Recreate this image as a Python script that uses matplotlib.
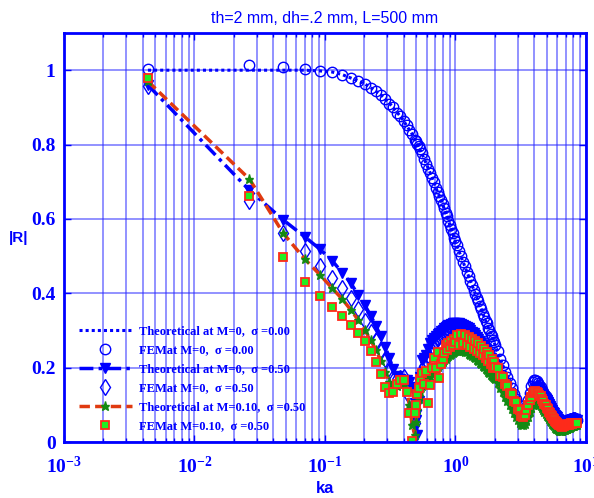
import math
import matplotlib
matplotlib.use("Agg")
import matplotlib.pyplot as plt
from matplotlib.ticker import LogLocator, FuncFormatter, NullFormatter, FixedLocator

plt.rcParams['mathtext.fontset'] = 'custom'
plt.rcParams['mathtext.rm'] = 'Liberation Serif:bold'
plt.rcParams['mathtext.it'] = 'Liberation Serif:bold'
plt.rcParams['mathtext.bf'] = 'Liberation Serif:bold'

BLUE = '#0000ff'

# ka grid: rows of 12 below ka=1, then 25 points up to 1.98, then steps of 0.1
ka = [
    0.0044, 0.0264, 0.048, 0.070, 0.092, 0.114, 0.136, 0.158, 0.180, 0.202, 0.224, 0.246,
    0.268, 0.290, 0.312, 0.334, 0.356, 0.378, 0.400, 0.422, 0.444, 0.466, 0.488, 0.499,
    0.510, 0.521, 0.532, 0.554, 0.576, 0.598, 0.620, 0.642, 0.664, 0.686, 0.708, 0.730,
    0.752, 0.774, 0.796, 0.818, 0.840, 0.862, 0.884, 0.906, 0.928, 0.950, 0.972, 0.994,
    1.02, 1.06, 1.10, 1.14, 1.18, 1.22, 1.26, 1.30, 1.34, 1.38, 1.42, 1.46, 1.50,
    1.54, 1.58, 1.62, 1.66, 1.70, 1.74, 1.78, 1.82, 1.86, 1.90, 1.94, 1.98,
    2.0,
    2.1, 2.2, 2.3, 2.4, 2.5, 2.6, 2.7, 2.8, 2.9, 3.0,
    3.1, 3.2, 3.3, 3.4, 3.5, 3.6, 3.7, 3.8, 3.9, 4.0,
    4.1, 4.2, 4.3, 4.4, 4.5, 4.6, 4.7, 4.8, 4.9, 5.0,
    5.1, 5.2, 5.3, 5.4, 5.5, 5.6, 5.7, 5.8, 5.9, 6.0,
    6.1, 6.2, 6.3, 6.4, 6.5, 6.6, 6.7, 6.8, 6.9, 7.0,
    7.1, 7.2, 7.3, 7.4, 7.5, 7.6, 7.7, 7.8, 7.9, 8.0,
    8.1, 8.2, 8.3, 8.4, 8.5,
]

# Theoretical, M=0, sigma=0.00
theo_m0_s0 = [
    1.000, 1.000, 1.000, 1.000, 0.998, 0.995, 0.988, 0.979, 0.971, 0.963, 0.953, 0.943,
    0.934, 0.922, 0.911, 0.899, 0.887, 0.876, 0.864, 0.851, 0.839, 0.828, 0.814, 0.808,
    0.802, 0.795, 0.788, 0.775, 0.761, 0.748, 0.736, 0.722, 0.710, 0.697, 0.685, 0.672,
    0.662, 0.650, 0.640, 0.628, 0.617, 0.606, 0.595, 0.583, 0.573, 0.562, 0.551, 0.540,
    0.530, 0.515, 0.500, 0.486, 0.473, 0.459, 0.446, 0.433, 0.421, 0.410, 0.398, 0.388, 0.377,
    0.367, 0.356, 0.346, 0.336, 0.327, 0.318, 0.308, 0.300, 0.291, 0.283, 0.275, 0.267,
    0.263,
    0.244, 0.225, 0.207, 0.190, 0.174, 0.159, 0.144, 0.129, 0.115, 0.102,
    0.089, 0.078, 0.072, 0.078, 0.092, 0.110, 0.128, 0.145, 0.157, 0.163,
    0.165, 0.163, 0.159, 0.154, 0.148, 0.142, 0.136, 0.130, 0.124, 0.118,
    0.112, 0.106, 0.100, 0.094, 0.089, 0.084, 0.079, 0.074, 0.070, 0.066,
    0.062, 0.059, 0.056, 0.054, 0.052, 0.051, 0.050, 0.050, 0.050, 0.051,
    0.051, 0.052, 0.052, 0.053, 0.053, 0.054, 0.054, 0.055, 0.055, 0.056,
    0.056, 0.057, 0.057, 0.058, 0.058,
]

# FEM, M=0, sigma=0.00
fem_m0_s0 = [
    1.003, 1.013, 1.009, 1.004, 0.999, 0.994, 0.987, 0.980, 0.970, 0.962, 0.952, 0.944,
    0.933, 0.923, 0.910, 0.900, 0.886, 0.877, 0.863, 0.852, 0.838, 0.829, 0.813, 0.809,
    0.801, 0.796, 0.787, 0.776, 0.760, 0.749, 0.735, 0.723, 0.709, 0.698, 0.684, 0.673,
    0.661, 0.651, 0.639, 0.629, 0.616, 0.607, 0.594, 0.584, 0.572, 0.563, 0.550, 0.541,
    0.531, 0.514, 0.501, 0.485, 0.474, 0.458, 0.447, 0.432, 0.422, 0.409, 0.399, 0.387, 0.378,
    0.366, 0.357, 0.345, 0.337, 0.326, 0.319, 0.307, 0.301, 0.290, 0.284, 0.274, 0.268,
    0.262,
    0.245, 0.224, 0.208, 0.189, 0.175, 0.158, 0.145, 0.128, 0.116, 0.101,
    0.090, 0.077, 0.073, 0.080, 0.095, 0.114, 0.133, 0.150, 0.161, 0.166,
    0.167, 0.164, 0.160, 0.154, 0.148, 0.141, 0.135, 0.129, 0.123, 0.117,
    0.111, 0.105, 0.099, 0.093, 0.088, 0.083, 0.078, 0.073, 0.069, 0.065,
    0.061, 0.058, 0.055, 0.053, 0.051, 0.050, 0.049, 0.049, 0.050, 0.050,
    0.051, 0.051, 0.052, 0.052, 0.053, 0.053, 0.054, 0.054, 0.055, 0.055,
    0.056, 0.056, 0.057, 0.057, 0.058,
]

# Theoretical, M=0, sigma=0.50
theo_m0_s05 = [
    0.960, 0.677, 0.597, 0.552, 0.518, 0.487, 0.455, 0.427, 0.395, 0.368, 0.340, 0.312,
    0.284, 0.256, 0.225, 0.196, 0.178, 0.170, 0.167, 0.168, 0.162, 0.148, 0.105, 0.060,
    0.020, 0.110, 0.175, 0.220, 0.225, 0.235, 0.250, 0.265, 0.275, 0.280, 0.285, 0.290,
    0.294, 0.298, 0.302, 0.306, 0.309, 0.312, 0.314, 0.316, 0.318, 0.319, 0.320, 0.320,
    0.320, 0.319, 0.318, 0.316, 0.313, 0.310, 0.306, 0.302, 0.297, 0.292, 0.287, 0.282, 0.277,
    0.271, 0.266, 0.260, 0.255, 0.249, 0.243, 0.238, 0.232, 0.227, 0.221, 0.215, 0.210,
    0.207,
    0.194, 0.181, 0.168, 0.156, 0.144, 0.132, 0.120, 0.109, 0.098, 0.088,
    0.079, 0.071, 0.066, 0.067, 0.076, 0.090, 0.105, 0.119, 0.130, 0.138,
    0.143, 0.145, 0.144, 0.141, 0.137, 0.132, 0.127, 0.122, 0.117, 0.112,
    0.107, 0.102, 0.097, 0.092, 0.087, 0.082, 0.078, 0.074, 0.070, 0.066,
    0.062, 0.059, 0.056, 0.054, 0.052, 0.051, 0.051, 0.051, 0.052, 0.053,
    0.054, 0.055, 0.056, 0.057, 0.058, 0.059, 0.059, 0.060, 0.060, 0.061,
    0.061, 0.061, 0.060, 0.060, 0.059,
]

# FEM, M=0, sigma=0.50
fem_m0_s05 = [
    0.958, 0.648, 0.561, 0.514, 0.473, 0.440, 0.413, 0.388, 0.357, 0.325, 0.295, 0.272,
    0.245, 0.222, 0.192, 0.175, 0.170, 0.172, 0.176, 0.160, 0.125, 0.085, 0.050, 0.085,
    0.115, 0.145, 0.170, 0.195, 0.205, 0.220, 0.235, 0.245, 0.258, 0.265, 0.272, 0.280,
    0.284, 0.289, 0.293, 0.297, 0.300, 0.303, 0.305, 0.307, 0.309, 0.310, 0.311, 0.311,
    0.311, 0.310, 0.308, 0.306, 0.303, 0.300, 0.297, 0.293, 0.289, 0.284, 0.280, 0.275, 0.270,
    0.265, 0.260, 0.254, 0.249, 0.244, 0.238, 0.233, 0.227, 0.222, 0.216, 0.211, 0.205,
    0.203,
    0.190, 0.177, 0.165, 0.153, 0.141, 0.129, 0.118, 0.107, 0.097, 0.087,
    0.078, 0.071, 0.067, 0.069, 0.078, 0.092, 0.106, 0.119, 0.129, 0.136,
    0.140, 0.141, 0.140, 0.137, 0.133, 0.128, 0.123, 0.118, 0.113, 0.108,
    0.103, 0.098, 0.093, 0.088, 0.083, 0.079, 0.075, 0.071, 0.067, 0.063,
    0.060, 0.057, 0.054, 0.052, 0.050, 0.049, 0.049, 0.049, 0.050, 0.051,
    0.052, 0.053, 0.054, 0.055, 0.056, 0.056, 0.057, 0.057, 0.058, 0.058,
    0.058, 0.058, 0.057, 0.057, 0.056,
]

# Theoretical, M=0.10, sigma=0.50
theo_m01_s05 = [
    0.970, 0.707, 0.561, 0.492, 0.449, 0.413, 0.384, 0.355, 0.328, 0.301, 0.274, 0.247,
    0.218, 0.188, 0.162, 0.147, 0.150, 0.158, 0.156, 0.138, 0.100, 0.045, 0.020, 0.055,
    0.085, 0.115, 0.135, 0.150, 0.158, 0.166, 0.172, 0.178, 0.184, 0.190, 0.196, 0.202,
    0.208, 0.212, 0.216, 0.220, 0.224, 0.228, 0.231, 0.234, 0.237, 0.240, 0.242, 0.244,
    0.245, 0.246, 0.246, 0.245, 0.243, 0.241, 0.238, 0.235, 0.232, 0.228, 0.225, 0.221, 0.217,
    0.213, 0.209, 0.205, 0.201, 0.197, 0.193, 0.189, 0.185, 0.181, 0.178, 0.175, 0.172,
    0.170,
    0.158, 0.146, 0.134, 0.122, 0.110, 0.099, 0.088, 0.078, 0.068, 0.060,
    0.052, 0.047, 0.045, 0.048, 0.056, 0.068, 0.080, 0.091, 0.099, 0.104,
    0.106, 0.106, 0.104, 0.100, 0.096, 0.091, 0.086, 0.081, 0.076, 0.071,
    0.066, 0.061, 0.057, 0.053, 0.049, 0.045, 0.042, 0.039, 0.036, 0.034,
    0.032, 0.030, 0.029, 0.029, 0.029, 0.030, 0.031, 0.032, 0.033, 0.034,
    0.035, 0.036, 0.037, 0.038, 0.039, 0.040, 0.041, 0.042, 0.043, 0.044,
    0.044, 0.045, 0.045, 0.046, 0.046,
]

# FEM, M=0.10, sigma=0.50
fem_m01_s05 = [
    0.978, 0.662, 0.498, 0.431, 0.392, 0.364, 0.339, 0.316, 0.294, 0.272, 0.245, 0.215,
    0.182, 0.149, 0.131, 0.135, 0.155, 0.168, 0.168, 0.135, 0.077, 0.003, 0.077, 0.100,
    0.130, 0.144, 0.170, 0.186, 0.156, 0.190, 0.104, 0.153, 0.200, 0.225, 0.198, 0.243,
    0.171, 0.210, 0.222, 0.240, 0.262, 0.247, 0.266, 0.255, 0.272, 0.262, 0.276, 0.268,
    0.288, 0.262, 0.290, 0.265, 0.287, 0.262, 0.282, 0.256, 0.276, 0.251, 0.271, 0.245, 0.266,
    0.240, 0.258, 0.233, 0.250, 0.226, 0.242, 0.218, 0.233, 0.209, 0.224, 0.200, 0.214,
    0.203,
    0.200, 0.178, 0.175, 0.155, 0.152, 0.131, 0.129, 0.109, 0.107, 0.088,
    0.086, 0.069, 0.068, 0.073, 0.086, 0.099, 0.113, 0.121, 0.131, 0.134,
    0.138, 0.135, 0.133, 0.126, 0.123, 0.115, 0.111, 0.103, 0.099, 0.091,
    0.088, 0.081, 0.078, 0.072, 0.070, 0.064, 0.062, 0.056, 0.055, 0.050,
    0.049, 0.045, 0.045, 0.042, 0.043, 0.041, 0.044, 0.043, 0.046, 0.045,
    0.047, 0.046, 0.048, 0.047, 0.049, 0.048, 0.050, 0.049, 0.050, 0.050,
    0.051, 0.050, 0.051, 0.050, 0.050,
]

labels = [
    'Theoretical at M=0,  σ =0.00',
    'FEMat M=0,  σ =0.00',
    'Theoretical at M=0,  σ =0.50',
    'FEMat M=0,  σ =0.50',
    'Theoretical at M=0.10,  σ =0.50',
    'FEMat M=0.10,  σ =0.50',
]

fig = plt.figure(figsize=(5.94, 4.98), dpi=100)
ax = fig.add_axes([0.1077, 0.1124, 0.8788, 0.8213])

ax.plot(ka, theo_m0_s0, linestyle=(0, (1, 1)), color=BLUE, lw=2.2, label=labels[0])
ax.plot(ka, fem_m0_s0, linestyle='none', marker='o', ms=7.5, mfc='none', mec=BLUE,
        mew=1.0, label=labels[1])
ax.plot(ka, theo_m0_s05, linestyle=(0, (4, 1.5, 1, 1.5)), color=BLUE, lw=2.5,
        marker='v', ms=7.5, mfc=BLUE, mec=BLUE, label=labels[2])
ax.plot(ka, fem_m0_s05, linestyle='none', marker='d', ms=8, mfc='none', mec=BLUE,
        mew=1.0, label=labels[3])
ax.plot(ka, theo_m01_s05, linestyle=(0, (3, 1.5)), color='#e03a10', lw=2.5,
        marker='*', ms=6.5, mfc='#138a13', mec='#138a13', label=labels[4])
ax.plot(ka, fem_m01_s05, linestyle='none', marker='s', ms=6, mfc='#22ee22',
        mec='#ff2a1a', mew=1.3, label=labels[5])

ax.set_xscale('log')
ax.set_xlim(1e-3, 10)
ax.set_ylim(0, 1.1)

ax.xaxis.set_major_locator(LogLocator(base=10, numticks=10))
ax.xaxis.set_minor_locator(LogLocator(base=10, subs=range(2, 10), numticks=20))
ax.xaxis.set_minor_formatter(NullFormatter())
ax.xaxis.set_major_formatter(
    FuncFormatter(lambda v, p: r'$\mathrm{10^{%d}}$' % round(math.log10(v))))
yt = [0, 0.2, 0.4, 0.6, 0.8, 1.0]
ax.yaxis.set_major_locator(FixedLocator(yt))
ax.set_yticklabels(['0', '0.2', '0.4', '0.6', '0.8', '1'])

for lab in ax.get_xticklabels() + ax.get_yticklabels():
    lab.set_fontfamily('Liberation Serif')
    lab.set_fontweight('bold')
    lab.set_color(BLUE)
ax.tick_params(axis='both', which='major', labelsize=14, direction='in', top=True,
               right=True, color=BLUE, length=5, width=1)
ax.tick_params(axis='x', which='major', pad=10)
ax.tick_params(axis='y', which='major', pad=6)
ax.tick_params(axis='x', which='minor', direction='in', top=True, color=BLUE,
               length=3, width=1)

ax.grid(True, which='both', axis='x', color='#2a2aff', alpha=0.65, lw=1.1)
ax.grid(True, which='major', axis='y', color='#2a2aff', alpha=0.65, lw=1.1)
ax.set_axisbelow(True)

for sp in ax.spines.values():
    sp.set_color(BLUE)
    sp.set_linewidth(2)

ax.set_title('th=2 mm, dh=.2 mm, L=500 mm', color=BLUE, fontsize=11.5,
             fontfamily='Liberation Sans', pad=7)
ax.set_xlabel('ka', color=BLUE, fontsize=12, fontweight='bold',
              fontfamily='Liberation Sans', labelpad=3)
ax.set_ylabel('|R|', color=BLUE, fontsize=11, fontweight='bold',
              fontfamily='Liberation Sans', rotation=0, labelpad=9, va='center')

leg = ax.legend(loc='lower left', bbox_to_anchor=(0.01, 0.0), frameon=False,
                prop={'family': 'Liberation Serif', 'weight': 'bold', 'size': 9},
                labelcolor=BLUE, handlelength=4.2, handletextpad=0.6,
                labelspacing=0.55, borderaxespad=0.4)

fig.savefig('out.png', dpi=100)
